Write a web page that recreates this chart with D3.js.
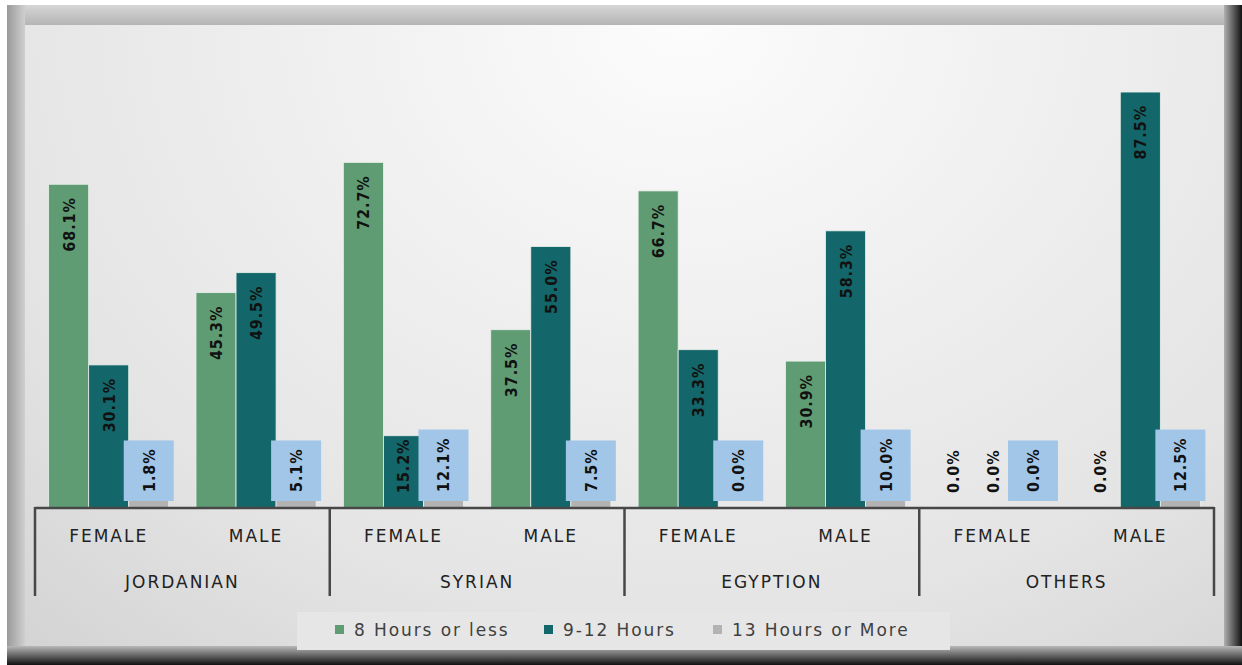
<!DOCTYPE html>
<html>
<head>
<meta charset="utf-8">
<script src="https://cdn.jsdelivr.net/npm/d3@7"></script>
<style>
  body { margin: 0; background: #fff; }
  svg text { font-family: "DejaVu Sans", sans-serif; }
</style>
</head>
<body>
<svg id="chart" width="1242" height="665"></svg>
<script>
// data
var nationalities = ["JORDANIAN", "SYRIAN", "EGYPTION", "OTHERS"];
var genders = ["FEMALE", "MALE"];
var seriesNames = ["8 Hours or less", "9-12 Hours", "13 Hours or More"];
var hours8 = [68.1, 45.3, 72.7, 37.5, 66.7, 30.9, 0.0, 0.0];
var hours9to12 = [30.1, 49.5, 15.2, 55.0, 33.3, 58.3, 0.0, 87.5];
var hours13 = [1.8, 5.1, 12.1, 7.5, 0.0, 10.0, 0.0, 12.5];
var colors = ["#5f9c74", "#136669", "#b3b3b3"];

var svg = d3.select("#chart");
var defs = svg.append("defs");

// frame + background
var bg = defs.append("radialGradient").attr("id", "bg")
    .attr("cx", "55%").attr("cy", "0%").attr("r", "100%")
    .attr("gradientTransform", "scale(1,1.6)");
bg.append("stop").attr("offset", "0%").attr("stop-color", "#fcfcfc");
bg.append("stop").attr("offset", "60%").attr("stop-color", "#e4e4e4");
bg.append("stop").attr("offset", "100%").attr("stop-color", "#c8c8c8");

var shR = defs.append("linearGradient").attr("id", "shR").attr("x1", 0).attr("x2", 1).attr("y1", 0).attr("y2", 0);
shR.append("stop").attr("offset", "0%").attr("stop-color", "#b0b0b0");
shR.append("stop").attr("offset", "100%").attr("stop-color", "#111");
var shB = defs.append("linearGradient").attr("id", "shB").attr("x1", 0).attr("x2", 0).attr("y1", 0).attr("y2", 1);
shB.append("stop").attr("offset", "0%").attr("stop-color", "#b8b8b8");
shB.append("stop").attr("offset", "100%").attr("stop-color", "#111");
var shT = defs.append("linearGradient").attr("id", "shT").attr("x1", 0).attr("x2", 0).attr("y1", 0).attr("y2", 1);
shT.append("stop").attr("offset", "0%").attr("stop-color", "#d6d6d6");
shT.append("stop").attr("offset", "100%").attr("stop-color", "#b4b4b4");
var shL = defs.append("linearGradient").attr("id", "shL").attr("x1", 0).attr("x2", 1).attr("y1", 0).attr("y2", 0);
shL.append("stop").attr("offset", "0%").attr("stop-color", "#9a9a9a");
shL.append("stop").attr("offset", "100%").attr("stop-color", "#cfcfcf");

svg.append("rect").attr("x", 7).attr("y", 5).attr("width", 1235).attr("height", 660).attr("fill", "#c4c4c4");
svg.append("rect").attr("x", 7).attr("y", 5).attr("width", 1235).attr("height", 20).attr("fill", "url(#shT)");
svg.append("rect").attr("x", 7).attr("y", 5).attr("width", 18).attr("height", 660).attr("fill", "url(#shL)");
svg.append("rect").attr("x", 1224).attr("y", 5).attr("width", 18).attr("height", 660).attr("fill", "url(#shR)");
svg.append("rect").attr("x", 7).attr("y", 646).attr("width", 1235).attr("height", 19).attr("fill", "url(#shB)");
svg.append("rect").attr("x", 25).attr("y", 25).attr("width", 1199).attr("height", 621).attr("fill", "url(#bg)");

// scales
var cats = [];
nationalities.forEach(function(n) { genders.forEach(function(g) { cats.push(n + "|" + g); }); });
var baseY = 508;
var x = d3.scaleBand().domain(cats).range([35, 1214]);
var xs = d3.scaleBand().domain(seriesNames).range([0, x.bandwidth()]).paddingOuter(0.34);
var xn = d3.scaleBand().domain(nationalities).range([35, 1214]);
var y = d3.scaleLinear().domain([0, 100]).range([baseY, 32.6]);

var values = [hours8, hours9to12, hours13];
var rows = [];
values.forEach(function(arr, si) {
  arr.forEach(function(v, ci) { rows.push({ s: seriesNames[si], si: si, cat: cats[ci], v: v }); });
});

var g = svg.append("g");
g.selectAll("rect.bar").data(rows).enter().append("rect")
  .attr("class", "bar")
  .attr("x", function(d) { return x(d.cat) + xs(d.s); })
  .attr("y", function(d) { return y(d.v); })
  .attr("width", xs.bandwidth())
  .attr("height", function(d) { return baseY - y(d.v); })
  .attr("fill", function(d) { return colors[d.si]; })
  .attr("stroke", function(d) { return d.v > 0 ? "#e8f0ea" : "none"; })
  .attr("stroke-width", 0.8);

var labFont = "'DejaVu Sans Condensed', 'DejaVu Sans', sans-serif";

// labels for first two series: inside end
var lab = g.selectAll("text.lab").data(rows.filter(function(d) { return d.si < 2; })).enter()
  .append("text").attr("class", "lab")
  .style("font-family", labFont).attr("font-weight", "bold")
  .attr("font-size", 16).attr("letter-spacing", 0.9)
  .attr("fill", "#111").attr("text-anchor", "end")
  .text(function(d) { return d.v.toFixed(1) + "%"; });
lab.each(function(d) {
  var len = this.getComputedTextLength();
  var cx = x(d.cat) + xs(d.s) + xs.bandwidth() / 2;
  var top = Math.min(y(d.v) + 13, 493 - len);
  d3.select(this).attr("transform", "translate(" + (cx + 6) + "," + top + ") rotate(-90)");
});

// labels for third series: inside base with box
var lab3 = g.selectAll("g.lab3").data(rows.filter(function(d) { return d.si == 2; })).enter()
  .append("g").attr("class", "lab3");
lab3.each(function(d) {
  var cx = x(d.cat) + xs(d.s) + xs.bandwidth() / 2;
  var gg = d3.select(this);
  var box = gg.append("rect").attr("fill", "#a2c6e8");
  var t = gg.append("text").style("font-family", labFont).attr("font-weight", "bold")
    .attr("font-size", 16).attr("letter-spacing", 0.9)
    .attr("fill", "#111").attr("text-anchor", "start")
    .text(d.v.toFixed(1) + "%");
  var len = t.node().getComputedTextLength();
  var bottom = baseY - 7;
  box.attr("x", cx - 25).attr("width", 50).attr("y", bottom - len - 17).attr("height", len + 17);
  t.attr("transform", "translate(" + (cx + 6) + "," + (bottom - 9) + ") rotate(-90)");
});

// axis
var axisCol = "#474747";
svg.append("line").attr("x1", 35).attr("x2", 1214).attr("y1", baseY).attr("y2", baseY)
  .attr("stroke", axisCol).attr("stroke-width", 2.5);
var seps = nationalities.map(function(n) { return xn(n); }).concat([1214]);
svg.selectAll("line.sep").data(seps).enter().append("line").attr("class", "sep")
  .attr("x1", function(d) { return d; }).attr("x2", function(d) { return d; })
  .attr("y1", baseY - 1).attr("y2", 596)
  .attr("stroke", axisCol).attr("stroke-width", 2.5);

svg.selectAll("text.gen").data(cats).enter().append("text").attr("class", "gen")
  .attr("x", function(d) { return x(d) + x.bandwidth() / 2; })
  .attr("y", 542).attr("text-anchor", "middle")
  .attr("font-size", 17).attr("letter-spacing", 2).attr("fill", "#222")
  .text(function(d) { return d.split("|")[1]; });
svg.selectAll("text.nat").data(nationalities).enter().append("text").attr("class", "nat")
  .attr("x", function(d) { return xn(d) + xn.bandwidth() / 2; })
  .attr("y", 588).attr("text-anchor", "middle")
  .attr("font-size", 17).attr("letter-spacing", 2).attr("fill", "#222")
  .text(function(d) { return d; });

// legend
svg.append("rect").attr("x", 297).attr("y", 612).attr("width", 653).attr("height", 38).attr("fill", "#e6e6e6");
var legX = [335, 544, 713];
var leg = svg.selectAll("g.leg").data(seriesNames).enter().append("g").attr("class", "leg")
  .attr("transform", function(d, i) { return "translate(" + legX[i] + ",632)"; });
leg.append("rect").attr("x", 0).attr("y", -7).attr("width", 9).attr("height", 9)
  .attr("fill", function(d, i) { return colors[i]; });
leg.append("text").attr("x", 19).attr("y", 4).attr("font-size", 17).attr("letter-spacing", 1.9)
  .attr("fill", "#404040").text(function(d) { return d; });
</script>
</body>
</html>
